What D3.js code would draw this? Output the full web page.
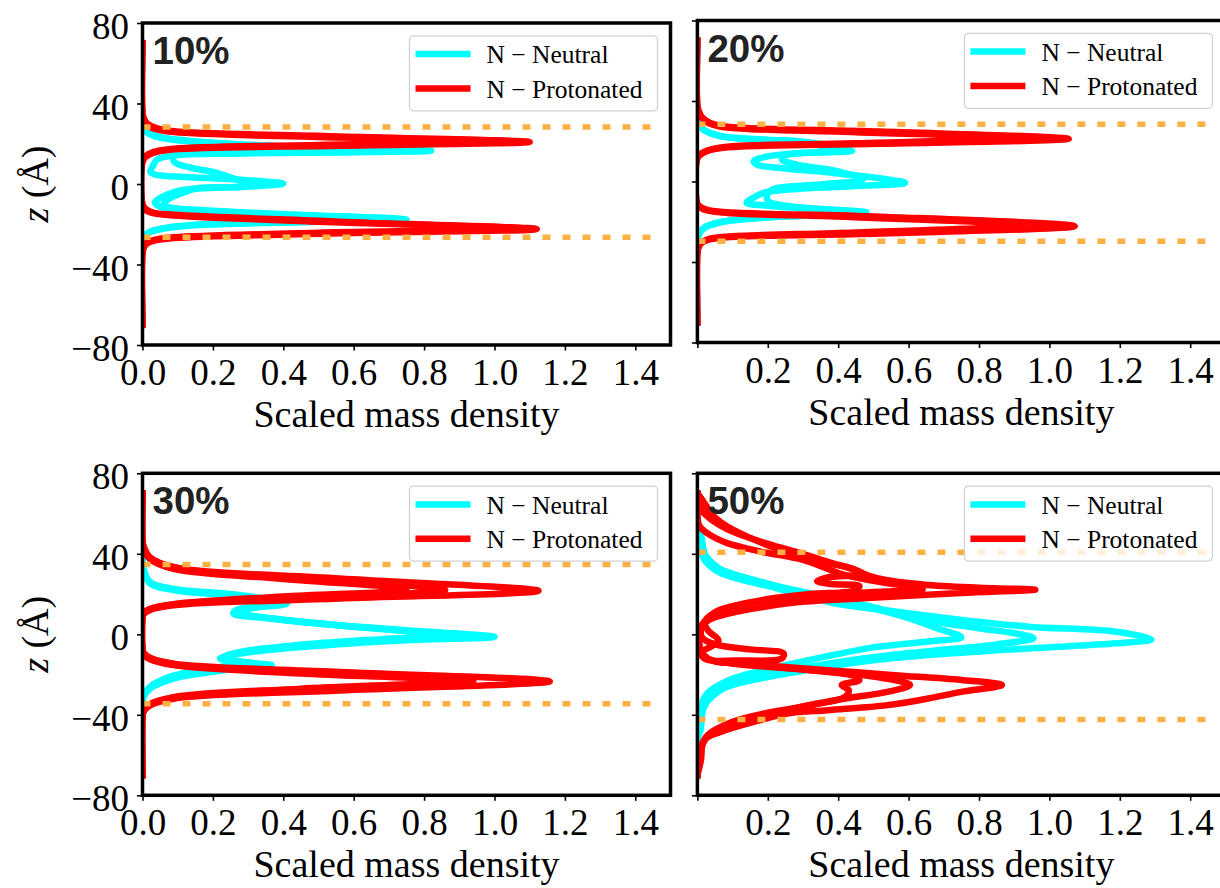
<!DOCTYPE html>
<html>
<head>
<meta charset="utf-8">
<script src="https://cdn.jsdelivr.net/npm/d3@7"></script>
<style>
	body { margin: 0; background: #fff; }
	#canvas { width: 1220px; height: 888px; }
	text { font-family: 'Liberation Serif', 'Times New Roman', serif; fill: #000; }
</style>
</head>
<body>
<div id="canvas"></div>
<script>
// values: each curve is a list of [scaled density, z (Å)]
const panelLabels = ['10%', '20%', '30%', '50%'];
const bilayerEdges = [[28.3, -26.5], [28.5, -29.7], [34.7, -34.5], [40.8, -42.3]];
const xTicks = [0, 0.2, 0.4, 0.6, 0.8, 1.0, 1.2, 1.4];
const yTicks = [80, 40, 0, -40, -80];
const legendLabels = ['N − Neutral', 'N − Protonated'];

const neutral10 = [
	[[0,70],[0,31],[0.005,27.5],[0.02,25],[0.06,23],[0.2,20.5],[0.45,18.5],[0.82,16.5],[0.5,15.6],[0.2,15],[0.08,14],[0.04,12],[0.03,9],[0.022,6],[0.04,4.5],[0.12,3.5],[0.27,2.2],[0.40,0.2],[0.3,-1.3],[0.16,-2.2],[0.1,-3.5],[0.06,-6],[0.035,-9],[0.05,-11.3],[0.15,-12.8],[0.4,-15],[0.75,-17.7],[0.45,-19],[0.15,-20.5],[0.05,-22.5],[0.02,-24],[0.005,-26],[0,-29],[0,-70]],
	[[0,70],[0,30],[0.005,27],[0.02,24.8],[0.06,22.7],[0.2,20.3],[0.45,18.3],[0.80,16.8],[0.5,15.8],[0.2,15.2],[0.09,13.8],[0.09,11],[0.14,8],[0.21,5.5],[0.3,-0.8],[0.16,-2],[0.12,-4],[0.07,-8],[0.06,-10.5],[0.08,-11.8],[0.2,-13.5],[0.45,-15.5],[0.74,-17.5],[0.45,-18.8],[0.15,-20.3],[0.05,-22.3],[0.02,-23.8],[0.005,-25.8],[0,-29],[0,-70]],
];
const protonated10 = [
	[[0,70],[0,36],[0.004,32.5],[0.015,29.8],[0.04,27.8],[0.09,26.2],[0.56,23.6],[1.10,20.9],[0.56,19.0],[0.09,17.2],[0.03,15.4],[0.008,13.3],[0,11],[0,-10],[0.008,-12.3],[0.03,-14.2],[0.09,-15.3],[0.56,-18.7],[1.12,-22.4],[0.56,-24.5],[0.09,-26.8],[0.04,-27.9],[0.015,-29.3],[0.004,-31.5],[0,-35],[0,-70]],
	[[0,70],[0,35],[0.004,31.5],[0.015,29],[0.04,27.2],[0.09,25.8],[0.5,23.3],[1.05,21.1],[0.5,19.4],[0.09,17.5],[0.03,15.8],[0.008,13.8],[0,11.5],[0,-10.5],[0.008,-12.8],[0.03,-14.5],[0.09,-15.6],[0.5,-18.8],[1.08,-22.1],[0.5,-24.2],[0.09,-26.5],[0.04,-27.5],[0.015,-28.8],[0.004,-31],[0,-34],[0,-70]],
];

const neutral20 = [
	[[0,70],[0,30],[0.004,28.5],[0.02,25.5],[0.07,22.5],[0.2,20.8],[0.3,19.8],[0.44,15.4],[0.3,14.2],[0.2,12.5],[0.16,10],[0.17,8.3],[0.25,6.5],[0.4,4],[0.59,-0.7],[0.45,-2.2],[0.3,-3.5],[0.19,-5.5],[0.16,-8],[0.14,-10.5],[0.2,-12],[0.35,-13.8],[0.48,-15.3],[0.3,-17],[0.15,-18.5],[0.06,-20.5],[0.02,-23],[0.005,-26],[0,-29],[0,-70]],
	[[0,70],[0,30],[0.004,28.3],[0.02,25.3],[0.07,22.3],[0.2,20.5],[0.3,19.3],[0.40,15.2],[0.3,14.3],[0.25,13],[0.24,11],[0.28,8.5],[0.4,5],[0.47,1],[0.35,-1.5],[0.22,-3.5],[0.2,-6],[0.2,-9.5],[0.25,-12],[0.44,-15],[0.3,-16.8],[0.15,-18.3],[0.06,-20.3],[0.02,-22.8],[0.005,-25.8],[0,-29],[0,-70]],
];
const protonated20 = [
	[[0,70],[0,38],[0.004,35],[0.015,31.5],[0.04,28.8],[0.085,27.2],[0.52,24.8],[1.055,21.2],[0.52,18.7],[0.085,17],[0.03,15.3],[0.01,13.5],[0,11.5],[0,-11],[0.01,-12.8],[0.03,-14.2],[0.085,-15.3],[0.52,-17.5],[1.072,-22.2],[0.52,-25.8],[0.085,-27.7],[0.03,-29],[0.01,-30.8],[0.003,-33],[0,-36],[0,-70]],
	[[0,70],[0,37],[0.004,34.5],[0.015,31],[0.04,28.5],[0.085,26.8],[0.45,24.5],[0.90,21.6],[0.45,19],[0.085,17.3],[0.03,15.5],[0.01,13.8],[0,12],[0,-11.5],[0.01,-13.2],[0.03,-14.5],[0.085,-15.6],[0.45,-17.8],[0.93,-21.8],[0.45,-25.3],[0.085,-27.4],[0.03,-28.7],[0.01,-30.5],[0.003,-32.5],[0,-35],[0,-70]],
];

const neutral30 = [
	[[0,70],[0,35],[0.003,32.7],[0.021,26],[0.088,22.6],[0.277,19.5],[0.41,15.3],[0.267,11.9],[0.258,10.3],[0.37,7.8],[0.56,4.5],[0.75,2],[1.0,-1.3],[0.75,-2.9],[0.46,-6.2],[0.277,-9.6],[0.22,-12.1],[0.28,-13.8],[0.367,-15.4],[0.23,-17.9],[0.088,-22],[0.021,-27],[0.003,-31],[0,-33],[0,-70]],
	[[0,70],[0,34],[0.003,32],[0.021,25.7],[0.088,22.3],[0.25,19.4],[0.38,15.6],[0.3,12.5],[0.27,10.8],[0.35,8.3],[0.52,5],[0.7,2.4],[0.897,-0.8],[0.7,-2.6],[0.45,-5.8],[0.28,-9.2],[0.24,-11.8],[0.26,-13.2],[0.32,-14.6],[0.2,-17.3],[0.08,-21.6],[0.02,-26.6],[0.003,-30.5],[0,-33],[0,-70]],
	[[0,70],[0,34],[0.003,31.5],[0.021,25.3],[0.088,22],[0.24,19.2],[0.36,15.8],[0.28,12.8],[0.26,11],[0.33,8.6],[0.5,5.3],[0.68,2.6],[0.86,-0.5],[0.68,-2.4],[0.43,-5.5],[0.27,-9],[0.23,-11.5],[0.25,-13],[0.3,-14.2],[0.19,-17],[0.075,-21.3],[0.02,-26.3],[0.003,-30],[0,-32.5],[0,-70]],
];
const protonated30 = [
	[[0,70],[0,47],[0.003,44],[0.02,38.5],[0.088,33.5],[0.56,27.7],[1.125,21.6],[0.56,17.8],[0.088,14.4],[0.02,12],[0.003,10],[0,8],[0,-7],[0.003,-9],[0.02,-11.5],[0.088,-14.6],[0.56,-18.7],[1.157,-23.4],[0.56,-27.9],[0.088,-32],[0.02,-35.5],[0.003,-38.6],[0,-42],[0,-70]],
	[[0,70],[0,46],[0.003,43],[0.02,38],[0.088,33],[0.45,28],[0.86,22],[0.45,18.5],[0.088,14.8],[0.02,12.3],[0.003,10.2],[0,8.5],[0,-7.5],[0.003,-9.5],[0.02,-12],[0.088,-15],[0.5,-19.2],[0.94,-23],[0.5,-27.2],[0.088,-31.5],[0.02,-35],[0.003,-38],[0,-41],[0,-70]],
	[[0,70],[0,45],[0.003,42.5],[0.02,37.5],[0.088,32.5],[0.4,27.5],[0.75,22.3],[0.4,18.8],[0.088,15],[0.02,12.6],[0.003,10.5],[0,9],[0,-8],[0.003,-10],[0.02,-12.3],[0.088,-15.3],[0.45,-19.5],[0.89,-23.2],[0.45,-27],[0.088,-31.2],[0.02,-34.8],[0.003,-37.8],[0,-40.5],[0,-70]],
];

const neutral50 = [
	[[0,70],[0,55],[0.009,50.3],[0.028,37],[0.085,30.4],[0.18,25.4],[0.275,20.4],[0.39,15.4],[0.56,11.3],[0.75,7.1],[0.94,3.8],[1.19,1.3],[1.29,-2.5],[1.19,-4.5],[0.94,-7],[0.655,-10.3],[0.465,-13.6],[0.37,-16.1],[0.228,-20.3],[0.133,-23.6],[0.066,-27.7],[0.019,-36],[0.009,-47.6],[0,-52],[0,-70]],
	[[0,70],[0,58],[0.005,47],[0.02,40],[0.06,33],[0.14,28],[0.25,23],[0.38,18],[0.5,13.5],[0.62,8],[0.8,3],[0.9,0.5],[0.955,-1.9],[0.85,-5],[0.65,-8.5],[0.47,-12],[0.32,-16],[0.2,-19.5],[0.12,-23],[0.06,-27],[0.02,-32],[0.005,-40],[0,-46],[0,-70]],
	[[0,70],[0,56],[0.005,44],[0.02,37],[0.06,31],[0.15,26],[0.3,20.5],[0.45,15],[0.6,8],[0.68,3],[0.75,-1.5],[0.66,-3.5],[0.5,-6.5],[0.38,-10.5],[0.26,-15],[0.16,-19],[0.08,-23.5],[0.03,-29],[0.008,-36],[0,-42],[0,-70]],
];
const protonated50 = [
	[[0,70],[0.009,68],[0.047,58.5],[0.085,53.6],[0.209,43.6],[0.32,37],[0.418,33.6],[0.51,27.9],[0.655,24.5],[0.845,22.9],[0.96,22.2],[0.75,20.5],[0.46,17.8],[0.27,15.7],[0.18,13.4],[0.085,10.1],[0.03,6.8],[0.01,2],[0.015,-2],[0.05,-5],[0.15,-7.5],[0.245,-9.5],[0.24,-12],[0.1,-13],[0.05,-13.5],[0.18,-15.3],[0.37,-17.8],[0.56,-20.3],[0.75,-22.7],[0.865,-25.2],[0.75,-28.6],[0.655,-31.9],[0.54,-35.2],[0.37,-37.7],[0.26,-39.3],[0.16,-43.5],[0.066,-48.5],[0.019,-52.6],[0.01,-62.6],[0,-70]],
	[[0,70],[0,60],[0.005,54],[0.03,50],[0.085,45.3],[0.18,41.1],[0.3,37],[0.418,29.5],[0.52,26],[0.64,22.4],[0.5,21],[0.35,19.5],[0.2,17],[0.1,13.5],[0.04,9],[0.01,4],[0.005,-2],[0.01,-8],[0.03,-12],[0.1,-14.5],[0.3,-17.5],[0.5,-21],[0.604,-25.2],[0.54,-28.6],[0.42,-31.9],[0.275,-36.8],[0.2,-41],[0.104,-46],[0.028,-51],[0.009,-57.6],[0,-62],[0,-70]],
	[[0,70],[0.01,62],[0.04,57],[0.1,51],[0.2,45],[0.3,40],[0.38,35.5],[0.45,32],[0.47,30],[0.37,28.3],[0.34,26.5],[0.38,25],[0.46,24],[0.45,22],[0.32,20],[0.2,17.5],[0.1,14],[0.05,11],[0.02,6],[0.03,2],[0.06,-3],[0.04,-6],[0.01,-9],[0.02,-12],[0.15,-15],[0.3,-17.5],[0.45,-21],[0.46,-22.8],[0.41,-25.2],[0.43,-27.7],[0.42,-31],[0.33,-35],[0.2,-39],[0.1,-43.5],[0.03,-50],[0.01,-56],[0,-62],[0,-70]],
];

const neutralSets = [neutral10, neutral20, neutral30, neutral50];
const protonatedSets = [protonated10, protonated20, protonated30, protonated50];

const chart = {
	dims: { width: 1220, height: 888 },
	panelW: 528,
	panelH: 322,
	origins: [
		{ x: 142.5, y: 23 },
		{ x: 697.4, y: 20.5 },
		{ x: 142.5, y: 473.3 },
		{ x: 697.4, y: 473.3 },
	],
	colors: { neutral: '#00ffff', protonated: '#ff0000', edge: '#fdb144' },
};

const svg = d3
	.select('#canvas')
	.append('svg')
	.attr('width', chart.dims.width)
	.attr('height', chart.dims.height);

svg.append('rect').attr('width', chart.dims.width).attr('height', chart.dims.height).attr('fill', '#fff');

panelLabels.forEach((label, i) => drawPanel(i));

function drawPanel(i) {
	const { panelW, panelH, colors } = chart;
	const o = chart.origins[i];
	const leftCol = i % 2 === 0;

	const x = d3.scaleLinear().domain([0, 1.5]).range([o.x, o.x + panelW]);
	const y = d3.scaleLinear().domain([-80, 80]).range([o.y + panelH, o.y]);

	const g = svg.append('g').attr('id', 'panel' + i);

	g.append('clipPath')
		.attr('id', 'clip' + i)
		.append('rect')
		.attr('x', o.x)
		.attr('y', o.y)
		.attr('width', panelW)
		.attr('height', panelH);

	const line = d3
		.line()
		.x(d => x(d[0]))
		.y(d => y(d[1]))
		.curve(d3.curveCatmullRom.alpha(0.5));

	const plot = g.append('g').attr('clip-path', `url(#clip${i})`);

	plot.selectAll('path.neutral')
		.data(neutralSets[i])
		.join('path')
		.attr('class', 'neutral')
		.attr('d', line)
		.attr('fill', 'none')
		.attr('stroke', colors.neutral)
		.attr('stroke-width', 6.5)
		.attr('stroke-linejoin', 'round')
		.attr('stroke-linecap', 'square');

	plot.selectAll('path.protonated')
		.data(protonatedSets[i])
		.join('path')
		.attr('class', 'protonated')
		.attr('d', line)
		.attr('fill', 'none')
		.attr('stroke', colors.protonated)
		.attr('stroke-width', 6.5)
		.attr('stroke-linejoin', 'round')
		.attr('stroke-linecap', 'square');

	// legend
	const lg = g.append('g').attr('transform', `translate(${o.x + 267},${o.y + 12.8})`);
	lg.append('rect')
		.attr('width', 248)
		.attr('height', 75)
		.attr('rx', 4)
		.attr('fill', '#fff')
		.attr('fill-opacity', 0.8)
		.attr('stroke', '#d0d0d0')
		.attr('stroke-width', 1.2);
	const rows = lg.selectAll('g.row')
		.data(legendLabels)
		.join('g')
		.attr('class', 'row')
		.attr('transform', (d, k) => `translate(0,${18.3 + k * 34.3})`);
	rows.append('line')
		.attr('x1', 6)
		.attr('x2', 61)
		.attr('stroke', (d, k) => (k === 0 ? colors.neutral : colors.protonated))
		.attr('stroke-width', 6.5);
	rows.append('text')
		.attr('x', 77)
		.attr('y', 9.3)
		.style('font-size', '25.5px')
		.text(d => d);

	// membrane edges
	plot.selectAll('line.edge')
		.data(bilayerEdges[i])
		.join('line')
		.attr('class', 'edge')
		.attr('x1', x(0))
		.attr('x2', x(1.45))
		.attr('y1', d => y(d))
		.attr('y2', d => y(d))
		.attr('stroke', colors.edge)
		.attr('stroke-width', 5.5)
		.attr('stroke-dasharray', '8,12');

	g.append('text')
		.attr('x', o.x + 10)
		.attr('y', o.y + 41)
		.style('font-family', "'Liberation Sans', Arial, sans-serif")
		.style('font-weight', 'bold')
		.style('font-size', '38.5px')
		.style('fill', '#222')
		.text(panelLabels[i]);

	// axes
	const xAxis = g.append('g')
		.attr('transform', `translate(0,${o.y + panelH})`)
		.call(
			d3.axisBottom(x)
				.tickValues(xTicks)
				.tickSize(5.5)
				.tickFormat(d => (!leftCol && d === 0 ? '' : d3.format('.1f')(d)))
		);
	xAxis.select('.domain').remove();
	xAxis.selectAll('line').attr('stroke', '#000').attr('stroke-width', 1.6);
	xAxis.selectAll('text')
		.attr('y', 40)
		.attr('dy', 0)
		.style('font-family', "'Liberation Serif', serif")
		.style('font-size', '37px');

	const yAxis = g.append('g')
		.attr('transform', `translate(${o.x},0)`)
		.call(
			d3.axisLeft(y)
				.tickValues(yTicks)
				.tickSize(5.5)
				.tickFormat(d => (leftCol ? (d < 0 ? '\u2212' + Math.abs(d) : String(d)) : ''))
		);
	yAxis.select('.domain').remove();
	yAxis.selectAll('line').attr('stroke', '#000').attr('stroke-width', 1.6);
	yAxis.selectAll('text')
		.attr('x', -13.5)
		.attr('dy', 15.5)
		.style('font-family', "'Liberation Serif', serif")
		.style('font-size', '37px');

	g.append('rect')
		.attr('x', o.x)
		.attr('y', o.y)
		.attr('width', panelW)
		.attr('height', panelH)
		.attr('fill', 'none')
		.attr('stroke', '#000')
		.attr('stroke-width', 3.5);

	g.append('text')
		.attr('x', o.x + panelW / 2)
		.attr('y', o.y + panelH + 82)
		.attr('text-anchor', 'middle')
		.style('font-size', '38px')
		.text('Scaled mass density');

	if (leftCol) {
		const yl = g.append('text')
			.attr('transform', `translate(48,${o.y + panelH / 2}) rotate(-90)`)
			.attr('text-anchor', 'middle')
			.style('font-size', '38px');
		yl.append('tspan').style('font-style', 'italic').text('z');
		yl.append('tspan').text(' (Å)');
	}
}
</script>
</body>
</html>
